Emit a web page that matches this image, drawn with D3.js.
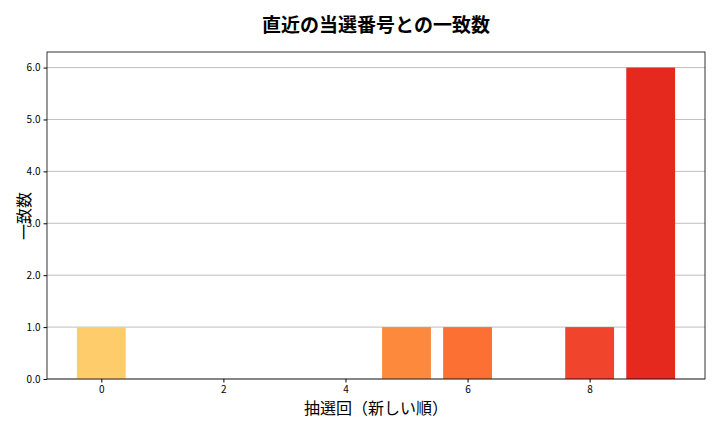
<!DOCTYPE html>
<html><head><meta charset="utf-8">
<script src="https://cdn.jsdelivr.net/npm/d3@7"></script>
<style>body{margin:0;background:#fff}text{font-family:"Noto Sans CJK JP","DejaVu Sans",sans-serif}</style>
</head><body><svg width="720" height="432"></svg>
<script>
const draws = [0, 5, 6, 8, 9];
const matches = [1, 1, 1, 1, 6];
const colors = ['#fecc6a', '#fd893c', '#fc7034', '#f1442c', '#e6291f'];
const xTicks = [0, 2, 4, 6, 8];
const yTicks = [0, 1, 2, 3, 4, 5, 6];

const svg = d3.select('svg');
const margin = { top: 52, right: 15, bottom: 53, left: 47 };
const width = 720 - margin.left - margin.right;
const height = 432 - margin.top - margin.bottom;
const g = svg.append('g').attr('transform', `translate(${margin.left},${margin.top})`);

const x = d3.scaleLinear().domain([-0.89, 9.89]).range([0, width]);
const y = d3.scaleLinear().domain([0, 6.3]).range([height, 0]);

// grid
g.append('g').selectAll('line').data(yTicks).enter().append('line')
  .attr('x1', 0).attr('x2', width)
  .attr('y1', d => y(d)).attr('y2', d => y(d))
  .attr('stroke', '#b0b0b0').attr('stroke-width', 0.8);

// bars
g.append('g').selectAll('rect').data(draws).enter().append('rect')
  .attr('x', d => x(d - 0.4))
  .attr('width', x(0.8) - x(0))
  .attr('y', (d, i) => y(matches[i]))
  .attr('height', (d, i) => height - y(matches[i]))
  .attr('fill', (d, i) => colors[i]);

const xa = g.append('g').attr('transform', `translate(0,${height})`)
  .call(d3.axisBottom(x).tickValues(xTicks).tickSize(3.5).tickSizeOuter(0));
const ya = g.append('g').call(d3.axisLeft(y).tickValues(yTicks).tickSize(3.5).tickSizeOuter(0));
[xa, ya].forEach(a => { a.selectAll('text').attr('font-size', 10).attr('fill', '#000'); a.select('.domain').remove(); });

g.append('rect').attr('width', width).attr('height', height)
  .attr('fill', 'none').attr('stroke', '#000').attr('stroke-width', 0.8);

svg.append('text').attr('x', 376).attr('y', 32).attr('text-anchor', 'middle')
  .attr('font-size', 19).attr('font-weight', 'bold').text('直近の当選番号との一致数');
svg.append('text').attr('x', 376).attr('y', 414).attr('text-anchor', 'middle')
  .attr('font-size', 16).text('抽選回（新しい順）');
svg.append('text').attr('transform', 'translate(30,216) rotate(-90)').attr('text-anchor', 'middle')
  .attr('font-size', 16).text('一致数');
</script></body></html>
